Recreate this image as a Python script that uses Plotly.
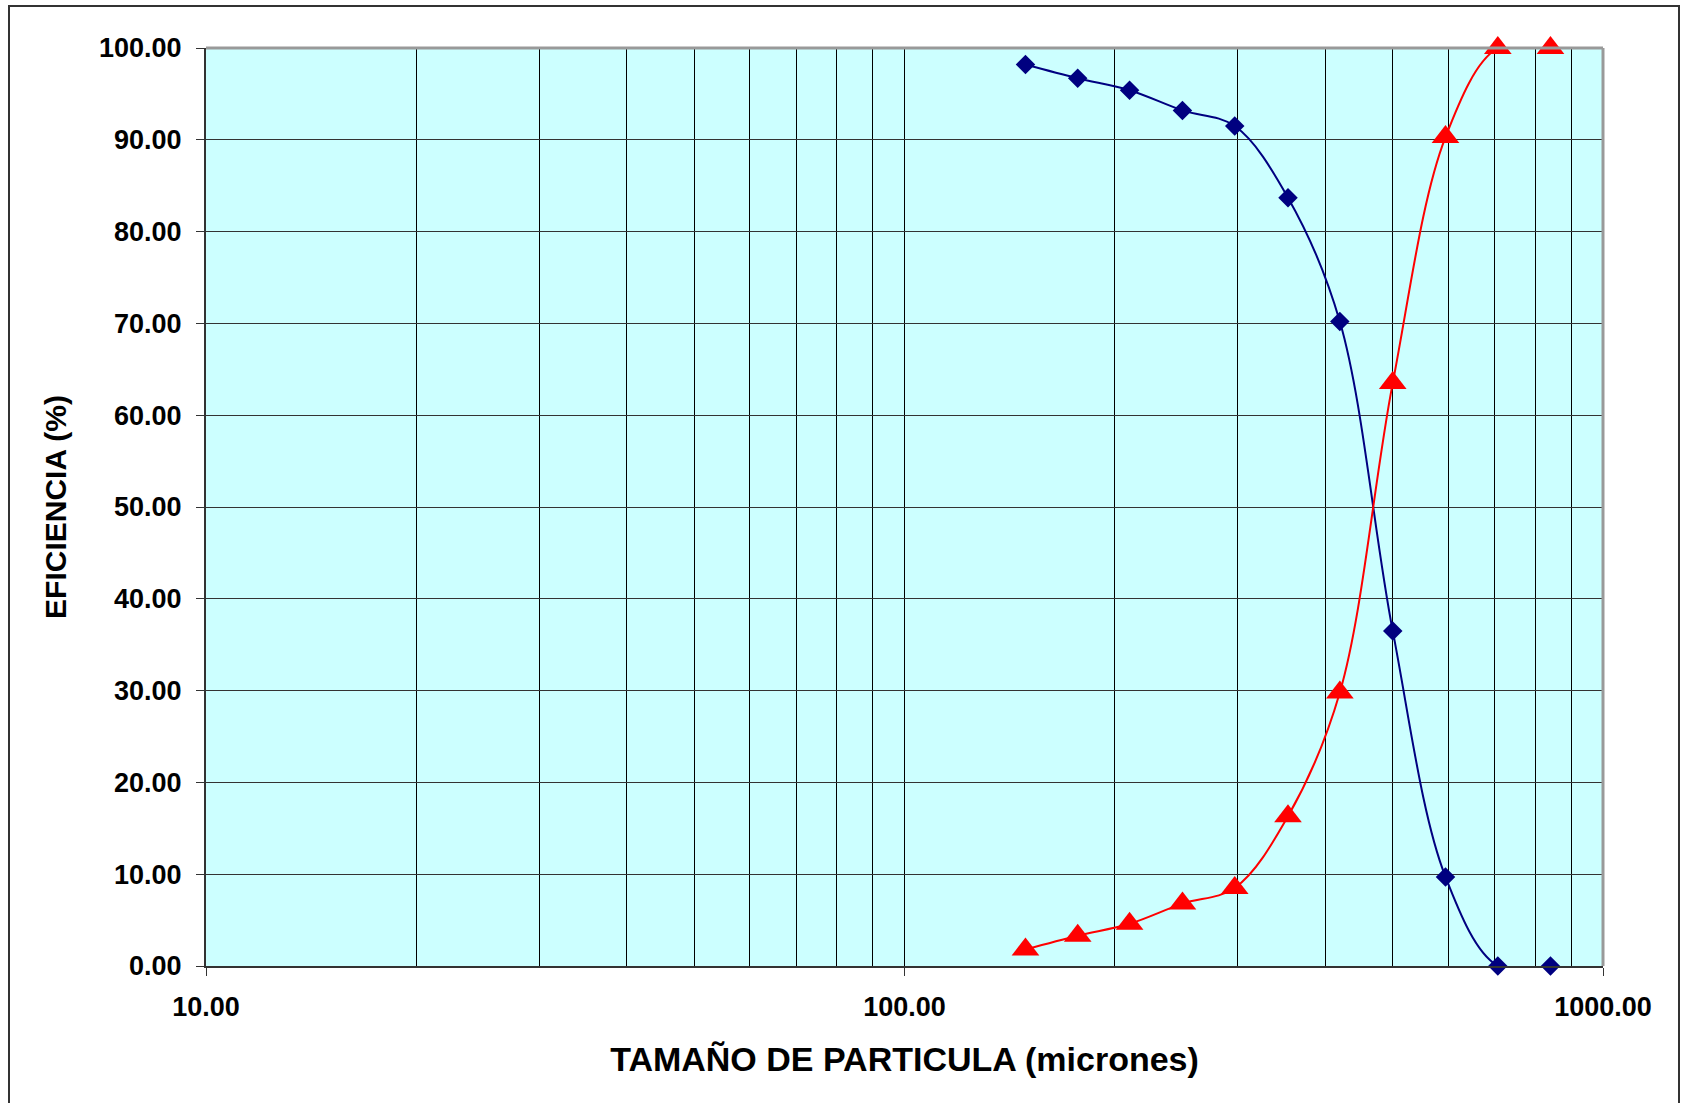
import plotly.graph_objects as go

# Data
particle_size = [149, 177, 210, 250, 297, 354, 420, 500, 595, 707, 841]
eff_blue = [98.2, 96.7, 95.4, 93.2, 91.5, 83.7, 70.2, 36.5, 9.7, 0.0, 0.0]
eff_red = [1.8, 3.3, 4.6, 6.8, 8.5, 16.3, 29.8, 63.5, 90.3, 100.0, 100.0]

x_major = [10, 100, 1000]
x_minor = [20, 30, 40, 50, 60, 70, 80, 90, 200, 300, 400, 500, 600, 700, 800, 900]
y_ticks = [0, 10, 20, 30, 40, 50, 60, 70, 80, 90, 100]

FONT = "Liberation Sans, Arial, sans-serif"

fig = go.Figure()
fig.add_trace(go.Scatter(
    x=particle_size, y=eff_blue, mode="lines+markers",
    line=dict(color="#000080", width=2, shape="spline", smoothing=1),
    marker=dict(symbol="diamond", size=15, color="#000080"),
    cliponaxis=False, showlegend=False))
fig.add_trace(go.Scatter(
    x=particle_size, y=eff_red, mode="lines+markers",
    line=dict(color="#FF0000", width=2, shape="spline", smoothing=1),
    marker=dict(symbol="triangle-up", size=24, color="#FF0000"),
    cliponaxis=False, showlegend=False))

W, H = 1685, 1103
L, R, T, B = 206, 82, 48, 137
pw, ph = W - L - R, H - T - B

fig.update_layout(
    width=W, height=H,
    margin=dict(l=L, r=R, t=T, b=B, autoexpand=False),
    paper_bgcolor="white", plot_bgcolor="#CCFFFF",
    font=dict(family=FONT, color="black"),
)

fig.update_xaxes(
    type="log", range=[1, 3], automargin=False,
    tickvals=x_major, tickformat=".2f",
    tickfont=dict(family=FONT, size=27, color="black", weight="bold"),
    ticks="outside", ticklen=8, tickcolor="#333333", tickwidth=1,
    ticklabelstandoff=8,
    showgrid=True, gridcolor="#000000", gridwidth=1,
    minor=dict(tickvals=x_minor, showgrid=True, gridcolor="#000000", gridwidth=1, ticks=""),
    showline=True, linecolor="#333333", linewidth=2,
    zeroline=False,
    title=dict(text="TAMAÑO DE PARTICULA (micrones)",
               font=dict(family=FONT, size=34, color="black", weight="bold"),
               standoff=26),
)
fig.update_yaxes(
    range=[0, 100], tickvals=y_ticks, tickformat=".2f", automargin=False,
    tickfont=dict(family=FONT, size=27, color="black", weight="bold"),
    ticks="outside", ticklen=8, tickcolor="#333333", tickwidth=1,
    ticklabelstandoff=9,
    showgrid=True, gridcolor="#333333", gridwidth=1,
    showline=True, linecolor="#333333", linewidth=2,
    zeroline=False,
    title=dict(text="EFICIENCIA (%)",
               font=dict(family=FONT, size=30, color="black", weight="bold"),
               standoff=24),
)

# plot-area top/right border (gray)
fig.add_shape(type="line", xref="paper", yref="paper", x0=0, x1=1, y0=1, y1=1,
              line=dict(color="#999999", width=3))
fig.add_shape(type="line", xref="paper", yref="paper", x0=1, x1=1, y0=0, y1=1,
              line=dict(color="#999999", width=3))

# outer chart frame
def px_x(p):
    return (p - L) / pw
def px_y(p):
    return (H - B - p) / ph
fig.add_shape(type="rect", xref="paper", yref="paper",
              x0=px_x(9), x1=px_x(1679), y0=px_y(1112), y1=px_y(6),
              line=dict(color="#333333", width=2), layer="below")

fig.write_html("out.html", config={"displayModeBar": False},
               post_script="document.body.style.margin='0';")
